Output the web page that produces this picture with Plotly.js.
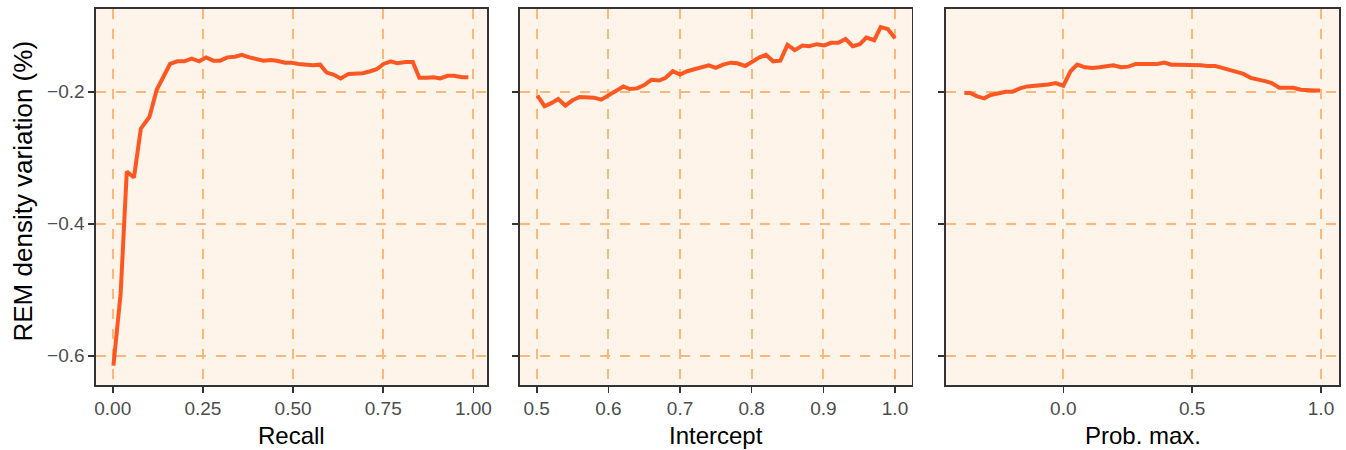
<!DOCTYPE html>
<html>
<head>
<meta charset="utf-8">
<script src="https://cdn.plot.ly/plotly-3.0.1.min.js"></script>
<style>html,body{margin:0;padding:0;background:#fff;}#chart{width:1346px;height:450px;}</style>
</head>
<body>
<div id="chart"></div>
<script>
// Panel 1: Recall
const recallX = [0.002,0.022,0.039,0.059,0.078,0.102,0.122,0.159,0.179,0.198,0.219,0.240,0.259,0.279,0.298,0.318,0.339,0.358,0.379,0.399,0.418,0.439,0.455,0.478,0.496,0.515,0.536,0.555,0.575,0.593,0.612,0.632,0.654,0.672,0.693,0.714,0.732,0.751,0.771,0.789,0.811,0.832,0.850,0.871,0.889,0.908,0.928,0.947,0.968,0.986];
const recallY = [-0.615,-0.506,-0.321,-0.330,-0.256,-0.238,-0.197,-0.158,-0.154,-0.154,-0.150,-0.154,-0.148,-0.153,-0.153,-0.148,-0.147,-0.144,-0.148,-0.151,-0.153,-0.152,-0.153,-0.156,-0.156,-0.158,-0.159,-0.160,-0.159,-0.171,-0.174,-0.180,-0.173,-0.172,-0.172,-0.169,-0.166,-0.158,-0.154,-0.157,-0.155,-0.155,-0.179,-0.179,-0.178,-0.180,-0.176,-0.176,-0.178,-0.178];

// Panel 2: Intercept
const interceptX = [0.501,0.511,0.521,0.530,0.540,0.550,0.560,0.571,0.580,0.590,0.600,0.611,0.621,0.630,0.640,0.650,0.660,0.671,0.680,0.690,0.700,0.710,0.720,0.730,0.740,0.750,0.760,0.771,0.780,0.791,0.801,0.811,0.820,0.830,0.840,0.850,0.860,0.871,0.880,0.891,0.901,0.911,0.921,0.931,0.941,0.951,0.960,0.971,0.980,0.990,1.000];
const interceptY = [-0.206,-0.222,-0.217,-0.211,-0.221,-0.213,-0.208,-0.209,-0.209,-0.212,-0.206,-0.198,-0.192,-0.196,-0.195,-0.190,-0.182,-0.183,-0.179,-0.169,-0.174,-0.169,-0.166,-0.162,-0.160,-0.164,-0.159,-0.156,-0.157,-0.161,-0.154,-0.148,-0.144,-0.154,-0.153,-0.129,-0.137,-0.130,-0.131,-0.128,-0.130,-0.126,-0.126,-0.120,-0.131,-0.128,-0.118,-0.122,-0.102,-0.105,-0.119];

// Panel 3: Prob. max.
const probX = [-0.384,-0.362,-0.334,-0.307,-0.282,-0.252,-0.223,-0.197,-0.168,-0.140,-0.113,-0.084,-0.058,-0.030,0.000,0.028,0.054,0.084,0.114,0.140,0.168,0.194,0.224,0.252,0.282,0.308,0.336,0.365,0.392,0.420,0.449,0.476,0.505,0.533,0.559,0.589,0.617,0.644,0.673,0.699,0.727,0.754,0.783,0.809,0.838,0.867,0.893,0.921,0.948,0.977,0.996];
const probY = [-0.202,-0.202,-0.207,-0.210,-0.205,-0.203,-0.200,-0.200,-0.195,-0.192,-0.191,-0.191,-0.189,-0.187,-0.191,-0.169,-0.159,-0.163,-0.164,-0.163,-0.161,-0.160,-0.163,-0.162,-0.158,-0.158,-0.159,-0.158,-0.156,-0.159,-0.159,-0.159,-0.159,-0.160,-0.161,-0.161,-0.164,-0.167,-0.171,-0.173,-0.179,-0.181,-0.184,-0.187,-0.194,-0.194,-0.194,-0.197,-0.198,-0.198,-0.198];

// Tick values and titles
const recallTicks = [0, 0.25, 0.5, 0.75, 1.0];
const interceptTicks = [0.5, 0.6, 0.7, 0.8, 0.9, 1.0];
const probTicks = [0.0, 0.5, 1.0];
const yTicks = [-0.6, -0.4, -0.2];
const xTitles = ["Recall", "Intercept", "Prob. max."];
const yTitle = "REM density variation (%)";

const W = 1346, H = 450;
const FONT = "Liberation Sans, Arial, Helvetica, sans-serif";
const lineColor = "#FF5722";
const gridColor = "#FFB679";
const frame = "#333333";

function dom(a, b) { return [a / W, b / W]; }
const yDom = [(H - 385) / H, (H - 9) / H];

function xaxis(domain, range, ticks, fmt) {
  return {
    domain: domain, range: range, tickvals: ticks, tickformat: fmt,
    showgrid: true, gridcolor: gridColor, gridwidth: 2, griddash: "10px,10px",
    zeroline: false, showline: true, mirror: true, linecolor: frame, linewidth: 1.6,
    ticks: "outside", ticklen: 6, tickwidth: 1.6, tickcolor: frame,
    tickfont: {family: FONT, size: 19, color: "#4D4D4D"}, automargin: false,
    fixedrange: true
  };
}
function yaxis(anchor, showLabels) {
  return {
    domain: yDom, range: [-0.6444, -0.0747], tickvals: yTicks, tickformat: ".1f",
    showticklabels: showLabels, anchor: anchor,
    showgrid: true, gridcolor: gridColor, gridwidth: 2, griddash: "10px,10px",
    zeroline: false, showline: true, mirror: true, linecolor: frame, linewidth: 1.6,
    ticks: "outside", ticklen: 6, tickwidth: 1.6, tickcolor: frame,
    tickfont: {family: FONT, size: 19, color: "#4D4D4D"}, automargin: false,
    fixedrange: true
  };
}

const traces = [
  {x: recallX, y: recallY, xaxis: "x", yaxis: "y", type: "scatter", mode: "lines",
   line: {color: lineColor, width: 4}, hoverinfo: "skip"},
  {x: interceptX, y: interceptY, xaxis: "x2", yaxis: "y2", type: "scatter", mode: "lines",
   line: {color: lineColor, width: 4}, hoverinfo: "skip"},
  {x: probX, y: probY, xaxis: "x3", yaxis: "y3", type: "scatter", mode: "lines",
   line: {color: lineColor, width: 4}, hoverinfo: "skip"}
];

const panelCenters = [291.5, 716, 1142.5];
const annotations = xTitles.map((t, i) => ({
  text: t, xref: "paper", yref: "paper", x: panelCenters[i] / W, y: (H - 435) / H,
  xanchor: "center", yanchor: "middle", showarrow: false,
  font: {family: FONT, size: 24, color: "#000000"}
}));
annotations.push({
  text: yTitle, xref: "paper", yref: "paper", x: 22.5 / W, y: (H - 191) / H,
  xanchor: "center", yanchor: "middle", showarrow: false, textangle: -90,
  font: {family: FONT, size: 26, color: "#000000"}
});

const layout = {
  width: W, height: H,
  margin: {l: 0, r: 0, t: 0, b: 0},
  paper_bgcolor: "#FFFFFF", plot_bgcolor: "#FEF4EA",
  showlegend: false,
  xaxis: xaxis(dom(96, 487), [-0.0463, 1.0377], recallTicks, ".2f"),
  xaxis2: xaxis(dom(520, 911.7), [0.4767, 1.0233], interceptTicks, ".1f"),
  xaxis3: xaxis(dom(946, 1339), [-0.4552, 1.0698], probTicks, ".1f"),
  yaxis: yaxis("x", true),
  yaxis2: yaxis("x2", false),
  yaxis3: yaxis("x3", false),
  annotations: annotations
};
layout.xaxis.anchor = "y";
layout.xaxis2.anchor = "y2";
layout.xaxis3.anchor = "y3";

Plotly.newPlot("chart", traces, layout, {displayModeBar: false, staticPlot: true});
</script>
</body>
</html>
